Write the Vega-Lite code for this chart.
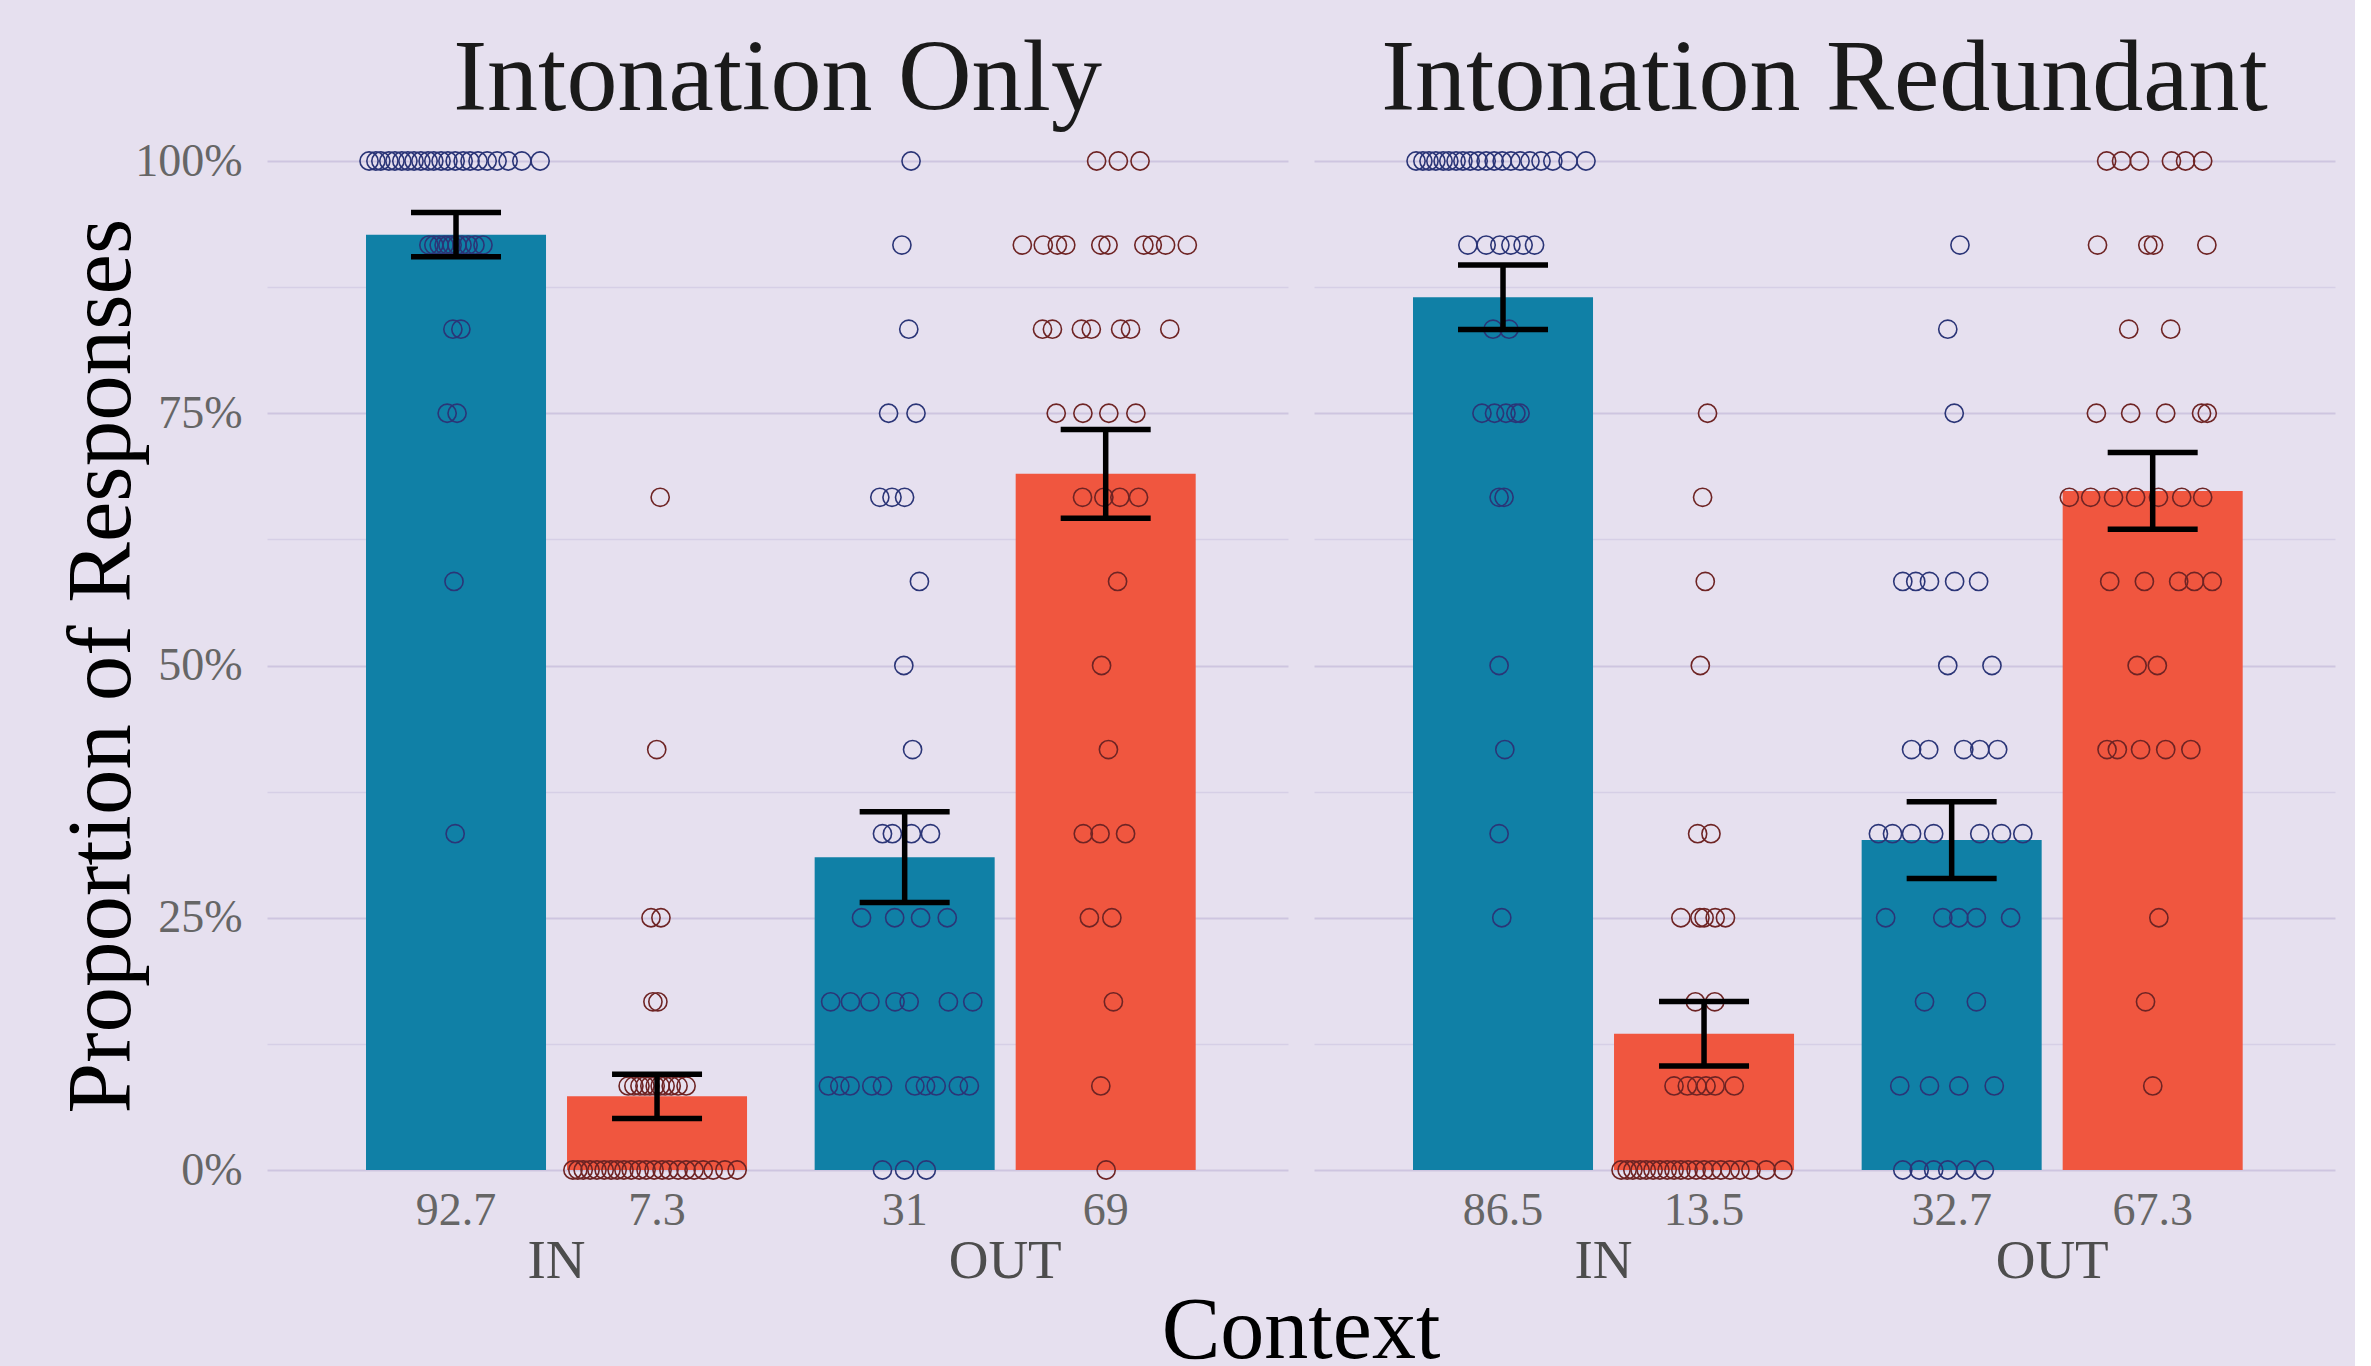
{
"$schema": "https://vega.github.io/schema/vega-lite/v6.json",
"background": "#E6E0EF",
"padding": {"left": 56, "top": 28, "right": 20, "bottom": 0},
"data": {"values": [
{"k":"bar","c":"Intonation Only","x":"IN","r":"A","v":92.7,"lo":90.5,"hi":94.9},
{"k":"bar","c":"Intonation Only","x":"IN","r":"B","v":7.3,"lo":5.1,"hi":9.5},
{"k":"bar","c":"Intonation Only","x":"OUT","r":"A","v":31,"lo":26.5,"hi":35.5},
{"k":"bar","c":"Intonation Only","x":"OUT","r":"B","v":69,"lo":64.6,"hi":73.4},
{"k":"bar","c":"Intonation Redundant","x":"IN","r":"A","v":86.5,"lo":83.3,"hi":89.7},
{"k":"bar","c":"Intonation Redundant","x":"IN","r":"B","v":13.5,"lo":10.3,"hi":16.7},
{"k":"bar","c":"Intonation Redundant","x":"OUT","r":"A","v":32.7,"lo":28.9,"hi":36.5},
{"k":"bar","c":"Intonation Redundant","x":"OUT","r":"B","v":67.3,"lo":63.5,"hi":71.1},

{"k":"pt","c":"Intonation Only","x":"IN","r":"A","v":100,"j":0.008},
{"k":"pt","c":"Intonation Only","x":"IN","r":"A","v":100,"j":0.026},
{"k":"pt","c":"Intonation Only","x":"IN","r":"A","v":100,"j":0.039},
{"k":"pt","c":"Intonation Only","x":"IN","r":"A","v":100,"j":0.060},
{"k":"pt","c":"Intonation Only","x":"IN","r":"A","v":100,"j":0.076},
{"k":"pt","c":"Intonation Only","x":"IN","r":"A","v":100,"j":0.094},
{"k":"pt","c":"Intonation Only","x":"IN","r":"A","v":100,"j":0.110},
{"k":"pt","c":"Intonation Only","x":"IN","r":"A","v":100,"j":0.126},
{"k":"pt","c":"Intonation Only","x":"IN","r":"A","v":100,"j":0.144},
{"k":"pt","c":"Intonation Only","x":"IN","r":"A","v":100,"j":0.163},
{"k":"pt","c":"Intonation Only","x":"IN","r":"A","v":100,"j":0.178},
{"k":"pt","c":"Intonation Only","x":"IN","r":"A","v":100,"j":0.197},
{"k":"pt","c":"Intonation Only","x":"IN","r":"A","v":100,"j":0.215},
{"k":"pt","c":"Intonation Only","x":"IN","r":"A","v":100,"j":0.234},
{"k":"pt","c":"Intonation Only","x":"IN","r":"A","v":100,"j":0.255},
{"k":"pt","c":"Intonation Only","x":"IN","r":"A","v":100,"j":0.273},
{"k":"pt","c":"Intonation Only","x":"IN","r":"A","v":100,"j":0.294},
{"k":"pt","c":"Intonation Only","x":"IN","r":"A","v":100,"j":0.318},
{"k":"pt","c":"Intonation Only","x":"IN","r":"A","v":100,"j":0.344},
{"k":"pt","c":"Intonation Only","x":"IN","r":"A","v":100,"j":0.373},
{"k":"pt","c":"Intonation Only","x":"IN","r":"A","v":100,"j":0.409},
{"k":"pt","c":"Intonation Only","x":"IN","r":"A","v":100,"j":0.457},
{"k":"pt","c":"Intonation Only","x":"IN","r":"A","v":91.667,"j":0.165},
{"k":"pt","c":"Intonation Only","x":"IN","r":"A","v":91.667,"j":0.178},
{"k":"pt","c":"Intonation Only","x":"IN","r":"A","v":91.667,"j":0.192},
{"k":"pt","c":"Intonation Only","x":"IN","r":"A","v":91.667,"j":0.205},
{"k":"pt","c":"Intonation Only","x":"IN","r":"A","v":91.667,"j":0.215},
{"k":"pt","c":"Intonation Only","x":"IN","r":"A","v":91.667,"j":0.226},
{"k":"pt","c":"Intonation Only","x":"IN","r":"A","v":91.667,"j":0.239},
{"k":"pt","c":"Intonation Only","x":"IN","r":"A","v":91.667,"j":0.252},
{"k":"pt","c":"Intonation Only","x":"IN","r":"A","v":91.667,"j":0.268},
{"k":"pt","c":"Intonation Only","x":"IN","r":"A","v":91.667,"j":0.286},
{"k":"pt","c":"Intonation Only","x":"IN","r":"A","v":91.667,"j":0.307},
{"k":"pt","c":"Intonation Only","x":"IN","r":"A","v":83.333,"j":0.228},
{"k":"pt","c":"Intonation Only","x":"IN","r":"A","v":83.333,"j":0.249},
{"k":"pt","c":"Intonation Only","x":"IN","r":"A","v":75,"j":0.213},
{"k":"pt","c":"Intonation Only","x":"IN","r":"A","v":75,"j":0.239},
{"k":"pt","c":"Intonation Only","x":"IN","r":"A","v":58.333,"j":0.231},
{"k":"pt","c":"Intonation Only","x":"IN","r":"A","v":33.333,"j":0.234},

{"k":"pt","c":"Intonation Only","x":"IN","r":"B","v":0,"j":0.543},
{"k":"pt","c":"Intonation Only","x":"IN","r":"B","v":0,"j":0.556},
{"k":"pt","c":"Intonation Only","x":"IN","r":"B","v":0,"j":0.570},
{"k":"pt","c":"Intonation Only","x":"IN","r":"B","v":0,"j":0.588},
{"k":"pt","c":"Intonation Only","x":"IN","r":"B","v":0,"j":0.606},
{"k":"pt","c":"Intonation Only","x":"IN","r":"B","v":0,"j":0.625},
{"k":"pt","c":"Intonation Only","x":"IN","r":"B","v":0,"j":0.643},
{"k":"pt","c":"Intonation Only","x":"IN","r":"B","v":0,"j":0.659},
{"k":"pt","c":"Intonation Only","x":"IN","r":"B","v":0,"j":0.677},
{"k":"pt","c":"Intonation Only","x":"IN","r":"B","v":0,"j":0.696},
{"k":"pt","c":"Intonation Only","x":"IN","r":"B","v":0,"j":0.717},
{"k":"pt","c":"Intonation Only","x":"IN","r":"B","v":0,"j":0.735},
{"k":"pt","c":"Intonation Only","x":"IN","r":"B","v":0,"j":0.756},
{"k":"pt","c":"Intonation Only","x":"IN","r":"B","v":0,"j":0.777},
{"k":"pt","c":"Intonation Only","x":"IN","r":"B","v":0,"j":0.795},
{"k":"pt","c":"Intonation Only","x":"IN","r":"B","v":0,"j":0.819},
{"k":"pt","c":"Intonation Only","x":"IN","r":"B","v":0,"j":0.840},
{"k":"pt","c":"Intonation Only","x":"IN","r":"B","v":0,"j":0.861},
{"k":"pt","c":"Intonation Only","x":"IN","r":"B","v":0,"j":0.885},
{"k":"pt","c":"Intonation Only","x":"IN","r":"B","v":0,"j":0.911},
{"k":"pt","c":"Intonation Only","x":"IN","r":"B","v":0,"j":0.942},
{"k":"pt","c":"Intonation Only","x":"IN","r":"B","v":0,"j":0.974},
{"k":"pt","c":"Intonation Only","x":"IN","r":"B","v":8.333,"j":0.688},
{"k":"pt","c":"Intonation Only","x":"IN","r":"B","v":8.333,"j":0.703},
{"k":"pt","c":"Intonation Only","x":"IN","r":"B","v":8.333,"j":0.719},
{"k":"pt","c":"Intonation Only","x":"IN","r":"B","v":8.333,"j":0.732},
{"k":"pt","c":"Intonation Only","x":"IN","r":"B","v":8.333,"j":0.745},
{"k":"pt","c":"Intonation Only","x":"IN","r":"B","v":8.333,"j":0.759},
{"k":"pt","c":"Intonation Only","x":"IN","r":"B","v":8.333,"j":0.772},
{"k":"pt","c":"Intonation Only","x":"IN","r":"B","v":8.333,"j":0.785},
{"k":"pt","c":"Intonation Only","x":"IN","r":"B","v":8.333,"j":0.801},
{"k":"pt","c":"Intonation Only","x":"IN","r":"B","v":8.333,"j":0.819},
{"k":"pt","c":"Intonation Only","x":"IN","r":"B","v":8.333,"j":0.840},
{"k":"pt","c":"Intonation Only","x":"IN","r":"B","v":16.667,"j":0.753},
{"k":"pt","c":"Intonation Only","x":"IN","r":"B","v":16.667,"j":0.766},
{"k":"pt","c":"Intonation Only","x":"IN","r":"B","v":25,"j":0.748},
{"k":"pt","c":"Intonation Only","x":"IN","r":"B","v":25,"j":0.774},
{"k":"pt","c":"Intonation Only","x":"IN","r":"B","v":41.667,"j":0.763},
{"k":"pt","c":"Intonation Only","x":"IN","r":"B","v":66.667,"j":0.772},

{"k":"pt","c":"Intonation Only","x":"OUT","r":"A","v":0,"j":0.178},
{"k":"pt","c":"Intonation Only","x":"OUT","r":"A","v":0,"j":0.236},
{"k":"pt","c":"Intonation Only","x":"OUT","r":"A","v":0,"j":0.293},
{"k":"pt","c":"Intonation Only","x":"OUT","r":"A","v":8.333,"j":0.036},
{"k":"pt","c":"Intonation Only","x":"OUT","r":"A","v":8.333,"j":0.066},
{"k":"pt","c":"Intonation Only","x":"OUT","r":"A","v":8.333,"j":0.093},
{"k":"pt","c":"Intonation Only","x":"OUT","r":"A","v":8.333,"j":0.150},
{"k":"pt","c":"Intonation Only","x":"OUT","r":"A","v":8.333,"j":0.178},
{"k":"pt","c":"Intonation Only","x":"OUT","r":"A","v":8.333,"j":0.263},
{"k":"pt","c":"Intonation Only","x":"OUT","r":"A","v":8.333,"j":0.291},
{"k":"pt","c":"Intonation Only","x":"OUT","r":"A","v":8.333,"j":0.319},
{"k":"pt","c":"Intonation Only","x":"OUT","r":"A","v":8.333,"j":0.377},
{"k":"pt","c":"Intonation Only","x":"OUT","r":"A","v":8.333,"j":0.406},
{"k":"pt","c":"Intonation Only","x":"OUT","r":"A","v":16.667,"j":0.042},
{"k":"pt","c":"Intonation Only","x":"OUT","r":"A","v":16.667,"j":0.094},
{"k":"pt","c":"Intonation Only","x":"OUT","r":"A","v":16.667,"j":0.145},
{"k":"pt","c":"Intonation Only","x":"OUT","r":"A","v":16.667,"j":0.211},
{"k":"pt","c":"Intonation Only","x":"OUT","r":"A","v":16.667,"j":0.248},
{"k":"pt","c":"Intonation Only","x":"OUT","r":"A","v":16.667,"j":0.351},
{"k":"pt","c":"Intonation Only","x":"OUT","r":"A","v":16.667,"j":0.415},
{"k":"pt","c":"Intonation Only","x":"OUT","r":"A","v":25,"j":0.123},
{"k":"pt","c":"Intonation Only","x":"OUT","r":"A","v":25,"j":0.210},
{"k":"pt","c":"Intonation Only","x":"OUT","r":"A","v":25,"j":0.278},
{"k":"pt","c":"Intonation Only","x":"OUT","r":"A","v":25,"j":0.348},
{"k":"pt","c":"Intonation Only","x":"OUT","r":"A","v":33.333,"j":0.178},
{"k":"pt","c":"Intonation Only","x":"OUT","r":"A","v":33.333,"j":0.204},
{"k":"pt","c":"Intonation Only","x":"OUT","r":"A","v":33.333,"j":0.254},
{"k":"pt","c":"Intonation Only","x":"OUT","r":"A","v":33.333,"j":0.304},
{"k":"pt","c":"Intonation Only","x":"OUT","r":"A","v":41.667,"j":0.257},
{"k":"pt","c":"Intonation Only","x":"OUT","r":"A","v":50,"j":0.234},
{"k":"pt","c":"Intonation Only","x":"OUT","r":"A","v":58.333,"j":0.275},
{"k":"pt","c":"Intonation Only","x":"OUT","r":"A","v":66.667,"j":0.171},
{"k":"pt","c":"Intonation Only","x":"OUT","r":"A","v":66.667,"j":0.203},
{"k":"pt","c":"Intonation Only","x":"OUT","r":"A","v":66.667,"j":0.236},
{"k":"pt","c":"Intonation Only","x":"OUT","r":"A","v":75,"j":0.194},
{"k":"pt","c":"Intonation Only","x":"OUT","r":"A","v":75,"j":0.266},
{"k":"pt","c":"Intonation Only","x":"OUT","r":"A","v":83.333,"j":0.247},
{"k":"pt","c":"Intonation Only","x":"OUT","r":"A","v":91.667,"j":0.229},
{"k":"pt","c":"Intonation Only","x":"OUT","r":"A","v":100,"j":0.253},

{"k":"pt","c":"Intonation Only","x":"OUT","r":"B","v":100,"j":0.740},
{"k":"pt","c":"Intonation Only","x":"OUT","r":"B","v":100,"j":0.797},
{"k":"pt","c":"Intonation Only","x":"OUT","r":"B","v":100,"j":0.854},
{"k":"pt","c":"Intonation Only","x":"OUT","r":"B","v":91.667,"j":0.545},
{"k":"pt","c":"Intonation Only","x":"OUT","r":"B","v":91.667,"j":0.600},
{"k":"pt","c":"Intonation Only","x":"OUT","r":"B","v":91.667,"j":0.637},
{"k":"pt","c":"Intonation Only","x":"OUT","r":"B","v":91.667,"j":0.659},
{"k":"pt","c":"Intonation Only","x":"OUT","r":"B","v":91.667,"j":0.751},
{"k":"pt","c":"Intonation Only","x":"OUT","r":"B","v":91.667,"j":0.770},
{"k":"pt","c":"Intonation Only","x":"OUT","r":"B","v":91.667,"j":0.864},
{"k":"pt","c":"Intonation Only","x":"OUT","r":"B","v":91.667,"j":0.886},
{"k":"pt","c":"Intonation Only","x":"OUT","r":"B","v":91.667,"j":0.921},
{"k":"pt","c":"Intonation Only","x":"OUT","r":"B","v":91.667,"j":0.978},
{"k":"pt","c":"Intonation Only","x":"OUT","r":"B","v":83.333,"j":0.598},
{"k":"pt","c":"Intonation Only","x":"OUT","r":"B","v":83.333,"j":0.624},
{"k":"pt","c":"Intonation Only","x":"OUT","r":"B","v":83.333,"j":0.700},
{"k":"pt","c":"Intonation Only","x":"OUT","r":"B","v":83.333,"j":0.726},
{"k":"pt","c":"Intonation Only","x":"OUT","r":"B","v":83.333,"j":0.803},
{"k":"pt","c":"Intonation Only","x":"OUT","r":"B","v":83.333,"j":0.829},
{"k":"pt","c":"Intonation Only","x":"OUT","r":"B","v":83.333,"j":0.932},
{"k":"pt","c":"Intonation Only","x":"OUT","r":"B","v":75,"j":0.634},
{"k":"pt","c":"Intonation Only","x":"OUT","r":"B","v":75,"j":0.704},
{"k":"pt","c":"Intonation Only","x":"OUT","r":"B","v":75,"j":0.772},
{"k":"pt","c":"Intonation Only","x":"OUT","r":"B","v":75,"j":0.843},
{"k":"pt","c":"Intonation Only","x":"OUT","r":"B","v":66.667,"j":0.703},
{"k":"pt","c":"Intonation Only","x":"OUT","r":"B","v":66.667,"j":0.759},
{"k":"pt","c":"Intonation Only","x":"OUT","r":"B","v":66.667,"j":0.801},
{"k":"pt","c":"Intonation Only","x":"OUT","r":"B","v":66.667,"j":0.850},
{"k":"pt","c":"Intonation Only","x":"OUT","r":"B","v":58.333,"j":0.795},
{"k":"pt","c":"Intonation Only","x":"OUT","r":"B","v":50,"j":0.753},
{"k":"pt","c":"Intonation Only","x":"OUT","r":"B","v":41.667,"j":0.771},
{"k":"pt","c":"Intonation Only","x":"OUT","r":"B","v":33.333,"j":0.705},
{"k":"pt","c":"Intonation Only","x":"OUT","r":"B","v":33.333,"j":0.749},
{"k":"pt","c":"Intonation Only","x":"OUT","r":"B","v":33.333,"j":0.816},
{"k":"pt","c":"Intonation Only","x":"OUT","r":"B","v":25,"j":0.721},
{"k":"pt","c":"Intonation Only","x":"OUT","r":"B","v":25,"j":0.780},
{"k":"pt","c":"Intonation Only","x":"OUT","r":"B","v":16.667,"j":0.784},
{"k":"pt","c":"Intonation Only","x":"OUT","r":"B","v":8.333,"j":0.751},
{"k":"pt","c":"Intonation Only","x":"OUT","r":"B","v":0,"j":0.765},

{"k":"pt","c":"Intonation Redundant","x":"IN","r":"A","v":100,"j":0.008},
{"k":"pt","c":"Intonation Redundant","x":"IN","r":"A","v":100,"j":0.026},
{"k":"pt","c":"Intonation Redundant","x":"IN","r":"A","v":100,"j":0.042},
{"k":"pt","c":"Intonation Redundant","x":"IN","r":"A","v":100,"j":0.060},
{"k":"pt","c":"Intonation Redundant","x":"IN","r":"A","v":100,"j":0.079},
{"k":"pt","c":"Intonation Redundant","x":"IN","r":"A","v":100,"j":0.094},
{"k":"pt","c":"Intonation Redundant","x":"IN","r":"A","v":100,"j":0.113},
{"k":"pt","c":"Intonation Redundant","x":"IN","r":"A","v":100,"j":0.131},
{"k":"pt","c":"Intonation Redundant","x":"IN","r":"A","v":100,"j":0.150},
{"k":"pt","c":"Intonation Redundant","x":"IN","r":"A","v":100,"j":0.171},
{"k":"pt","c":"Intonation Redundant","x":"IN","r":"A","v":100,"j":0.192},
{"k":"pt","c":"Intonation Redundant","x":"IN","r":"A","v":100,"j":0.213},
{"k":"pt","c":"Intonation Redundant","x":"IN","r":"A","v":100,"j":0.234},
{"k":"pt","c":"Intonation Redundant","x":"IN","r":"A","v":100,"j":0.257},
{"k":"pt","c":"Intonation Redundant","x":"IN","r":"A","v":100,"j":0.281},
{"k":"pt","c":"Intonation Redundant","x":"IN","r":"A","v":100,"j":0.307},
{"k":"pt","c":"Intonation Redundant","x":"IN","r":"A","v":100,"j":0.336},
{"k":"pt","c":"Intonation Redundant","x":"IN","r":"A","v":100,"j":0.367},
{"k":"pt","c":"Intonation Redundant","x":"IN","r":"A","v":100,"j":0.407},
{"k":"pt","c":"Intonation Redundant","x":"IN","r":"A","v":100,"j":0.454},
{"k":"pt","c":"Intonation Redundant","x":"IN","r":"A","v":91.667,"j":0.144},
{"k":"pt","c":"Intonation Redundant","x":"IN","r":"A","v":91.667,"j":0.192},
{"k":"pt","c":"Intonation Redundant","x":"IN","r":"A","v":91.667,"j":0.228},
{"k":"pt","c":"Intonation Redundant","x":"IN","r":"A","v":91.667,"j":0.257},
{"k":"pt","c":"Intonation Redundant","x":"IN","r":"A","v":91.667,"j":0.289},
{"k":"pt","c":"Intonation Redundant","x":"IN","r":"A","v":91.667,"j":0.319},
{"k":"pt","c":"Intonation Redundant","x":"IN","r":"A","v":83.333,"j":0.210},
{"k":"pt","c":"Intonation Redundant","x":"IN","r":"A","v":83.333,"j":0.252},
{"k":"pt","c":"Intonation Redundant","x":"IN","r":"A","v":75,"j":0.181},
{"k":"pt","c":"Intonation Redundant","x":"IN","r":"A","v":75,"j":0.214},
{"k":"pt","c":"Intonation Redundant","x":"IN","r":"A","v":75,"j":0.244},
{"k":"pt","c":"Intonation Redundant","x":"IN","r":"A","v":75,"j":0.270},
{"k":"pt","c":"Intonation Redundant","x":"IN","r":"A","v":75,"j":0.281},
{"k":"pt","c":"Intonation Redundant","x":"IN","r":"A","v":66.667,"j":0.226},
{"k":"pt","c":"Intonation Redundant","x":"IN","r":"A","v":66.667,"j":0.239},
{"k":"pt","c":"Intonation Redundant","x":"IN","r":"A","v":50,"j":0.226},
{"k":"pt","c":"Intonation Redundant","x":"IN","r":"A","v":41.667,"j":0.241},
{"k":"pt","c":"Intonation Redundant","x":"IN","r":"A","v":33.333,"j":0.226},
{"k":"pt","c":"Intonation Redundant","x":"IN","r":"A","v":25,"j":0.233},

{"k":"pt","c":"Intonation Redundant","x":"IN","r":"B","v":0,"j":0.546},
{"k":"pt","c":"Intonation Redundant","x":"IN","r":"B","v":0,"j":0.562},
{"k":"pt","c":"Intonation Redundant","x":"IN","r":"B","v":0,"j":0.577},
{"k":"pt","c":"Intonation Redundant","x":"IN","r":"B","v":0,"j":0.596},
{"k":"pt","c":"Intonation Redundant","x":"IN","r":"B","v":0,"j":0.612},
{"k":"pt","c":"Intonation Redundant","x":"IN","r":"B","v":0,"j":0.630},
{"k":"pt","c":"Intonation Redundant","x":"IN","r":"B","v":0,"j":0.648},
{"k":"pt","c":"Intonation Redundant","x":"IN","r":"B","v":0,"j":0.667},
{"k":"pt","c":"Intonation Redundant","x":"IN","r":"B","v":0,"j":0.685},
{"k":"pt","c":"Intonation Redundant","x":"IN","r":"B","v":0,"j":0.703},
{"k":"pt","c":"Intonation Redundant","x":"IN","r":"B","v":0,"j":0.722},
{"k":"pt","c":"Intonation Redundant","x":"IN","r":"B","v":0,"j":0.743},
{"k":"pt","c":"Intonation Redundant","x":"IN","r":"B","v":0,"j":0.764},
{"k":"pt","c":"Intonation Redundant","x":"IN","r":"B","v":0,"j":0.785},
{"k":"pt","c":"Intonation Redundant","x":"IN","r":"B","v":0,"j":0.808},
{"k":"pt","c":"Intonation Redundant","x":"IN","r":"B","v":0,"j":0.832},
{"k":"pt","c":"Intonation Redundant","x":"IN","r":"B","v":0,"j":0.858},
{"k":"pt","c":"Intonation Redundant","x":"IN","r":"B","v":0,"j":0.887},
{"k":"pt","c":"Intonation Redundant","x":"IN","r":"B","v":0,"j":0.927},
{"k":"pt","c":"Intonation Redundant","x":"IN","r":"B","v":0,"j":0.971},
{"k":"pt","c":"Intonation Redundant","x":"IN","r":"B","v":8.333,"j":0.685},
{"k":"pt","c":"Intonation Redundant","x":"IN","r":"B","v":8.333,"j":0.720},
{"k":"pt","c":"Intonation Redundant","x":"IN","r":"B","v":8.333,"j":0.745},
{"k":"pt","c":"Intonation Redundant","x":"IN","r":"B","v":8.333,"j":0.769},
{"k":"pt","c":"Intonation Redundant","x":"IN","r":"B","v":8.333,"j":0.793},
{"k":"pt","c":"Intonation Redundant","x":"IN","r":"B","v":8.333,"j":0.843},
{"k":"pt","c":"Intonation Redundant","x":"IN","r":"B","v":16.667,"j":0.741},
{"k":"pt","c":"Intonation Redundant","x":"IN","r":"B","v":16.667,"j":0.792},
{"k":"pt","c":"Intonation Redundant","x":"IN","r":"B","v":25,"j":0.703},
{"k":"pt","c":"Intonation Redundant","x":"IN","r":"B","v":25,"j":0.753},
{"k":"pt","c":"Intonation Redundant","x":"IN","r":"B","v":25,"j":0.764},
{"k":"pt","c":"Intonation Redundant","x":"IN","r":"B","v":25,"j":0.793},
{"k":"pt","c":"Intonation Redundant","x":"IN","r":"B","v":25,"j":0.820},
{"k":"pt","c":"Intonation Redundant","x":"IN","r":"B","v":33.333,"j":0.747},
{"k":"pt","c":"Intonation Redundant","x":"IN","r":"B","v":33.333,"j":0.782},
{"k":"pt","c":"Intonation Redundant","x":"IN","r":"B","v":50,"j":0.754},
{"k":"pt","c":"Intonation Redundant","x":"IN","r":"B","v":58.333,"j":0.767},
{"k":"pt","c":"Intonation Redundant","x":"IN","r":"B","v":66.667,"j":0.760},
{"k":"pt","c":"Intonation Redundant","x":"IN","r":"B","v":75,"j":0.773},

{"k":"pt","c":"Intonation Redundant","x":"OUT","r":"A","v":91.667,"j":0.258},
{"k":"pt","c":"Intonation Redundant","x":"OUT","r":"A","v":83.333,"j":0.226},
{"k":"pt","c":"Intonation Redundant","x":"OUT","r":"A","v":75,"j":0.243},
{"k":"pt","c":"Intonation Redundant","x":"OUT","r":"A","v":58.333,"j":0.108},
{"k":"pt","c":"Intonation Redundant","x":"OUT","r":"A","v":58.333,"j":0.142},
{"k":"pt","c":"Intonation Redundant","x":"OUT","r":"A","v":58.333,"j":0.178},
{"k":"pt","c":"Intonation Redundant","x":"OUT","r":"A","v":58.333,"j":0.244},
{"k":"pt","c":"Intonation Redundant","x":"OUT","r":"A","v":58.333,"j":0.307},
{"k":"pt","c":"Intonation Redundant","x":"OUT","r":"A","v":50,"j":0.226},
{"k":"pt","c":"Intonation Redundant","x":"OUT","r":"A","v":50,"j":0.342},
{"k":"pt","c":"Intonation Redundant","x":"OUT","r":"A","v":41.667,"j":0.131},
{"k":"pt","c":"Intonation Redundant","x":"OUT","r":"A","v":41.667,"j":0.176},
{"k":"pt","c":"Intonation Redundant","x":"OUT","r":"A","v":41.667,"j":0.268},
{"k":"pt","c":"Intonation Redundant","x":"OUT","r":"A","v":41.667,"j":0.310},
{"k":"pt","c":"Intonation Redundant","x":"OUT","r":"A","v":41.667,"j":0.357},
{"k":"pt","c":"Intonation Redundant","x":"OUT","r":"A","v":33.333,"j":0.044},
{"k":"pt","c":"Intonation Redundant","x":"OUT","r":"A","v":33.333,"j":0.081},
{"k":"pt","c":"Intonation Redundant","x":"OUT","r":"A","v":33.333,"j":0.131},
{"k":"pt","c":"Intonation Redundant","x":"OUT","r":"A","v":33.333,"j":0.189},
{"k":"pt","c":"Intonation Redundant","x":"OUT","r":"A","v":33.333,"j":0.310},
{"k":"pt","c":"Intonation Redundant","x":"OUT","r":"A","v":33.333,"j":0.367},
{"k":"pt","c":"Intonation Redundant","x":"OUT","r":"A","v":33.333,"j":0.423},
{"k":"pt","c":"Intonation Redundant","x":"OUT","r":"A","v":25,"j":0.063},
{"k":"pt","c":"Intonation Redundant","x":"OUT","r":"A","v":25,"j":0.213},
{"k":"pt","c":"Intonation Redundant","x":"OUT","r":"A","v":25,"j":0.255},
{"k":"pt","c":"Intonation Redundant","x":"OUT","r":"A","v":25,"j":0.301},
{"k":"pt","c":"Intonation Redundant","x":"OUT","r":"A","v":25,"j":0.391},
{"k":"pt","c":"Intonation Redundant","x":"OUT","r":"A","v":16.667,"j":0.165},
{"k":"pt","c":"Intonation Redundant","x":"OUT","r":"A","v":16.667,"j":0.301},
{"k":"pt","c":"Intonation Redundant","x":"OUT","r":"A","v":8.333,"j":0.100},
{"k":"pt","c":"Intonation Redundant","x":"OUT","r":"A","v":8.333,"j":0.178},
{"k":"pt","c":"Intonation Redundant","x":"OUT","r":"A","v":8.333,"j":0.255},
{"k":"pt","c":"Intonation Redundant","x":"OUT","r":"A","v":8.333,"j":0.348},
{"k":"pt","c":"Intonation Redundant","x":"OUT","r":"A","v":0,"j":0.108},
{"k":"pt","c":"Intonation Redundant","x":"OUT","r":"A","v":0,"j":0.151},
{"k":"pt","c":"Intonation Redundant","x":"OUT","r":"A","v":0,"j":0.189},
{"k":"pt","c":"Intonation Redundant","x":"OUT","r":"A","v":0,"j":0.226},
{"k":"pt","c":"Intonation Redundant","x":"OUT","r":"A","v":0,"j":0.273},
{"k":"pt","c":"Intonation Redundant","x":"OUT","r":"A","v":0,"j":0.322},

{"k":"pt","c":"Intonation Redundant","x":"OUT","r":"B","v":100,"j":0.643},
{"k":"pt","c":"Intonation Redundant","x":"OUT","r":"B","v":100,"j":0.682},
{"k":"pt","c":"Intonation Redundant","x":"OUT","r":"B","v":100,"j":0.729},
{"k":"pt","c":"Intonation Redundant","x":"OUT","r":"B","v":100,"j":0.813},
{"k":"pt","c":"Intonation Redundant","x":"OUT","r":"B","v":100,"j":0.850},
{"k":"pt","c":"Intonation Redundant","x":"OUT","r":"B","v":100,"j":0.895},
{"k":"pt","c":"Intonation Redundant","x":"OUT","r":"B","v":91.667,"j":0.619},
{"k":"pt","c":"Intonation Redundant","x":"OUT","r":"B","v":91.667,"j":0.751},
{"k":"pt","c":"Intonation Redundant","x":"OUT","r":"B","v":91.667,"j":0.766},
{"k":"pt","c":"Intonation Redundant","x":"OUT","r":"B","v":91.667,"j":0.906},
{"k":"pt","c":"Intonation Redundant","x":"OUT","r":"B","v":83.333,"j":0.701},
{"k":"pt","c":"Intonation Redundant","x":"OUT","r":"B","v":83.333,"j":0.811},
{"k":"pt","c":"Intonation Redundant","x":"OUT","r":"B","v":75,"j":0.616},
{"k":"pt","c":"Intonation Redundant","x":"OUT","r":"B","v":75,"j":0.706},
{"k":"pt","c":"Intonation Redundant","x":"OUT","r":"B","v":75,"j":0.798},
{"k":"pt","c":"Intonation Redundant","x":"OUT","r":"B","v":75,"j":0.892},
{"k":"pt","c":"Intonation Redundant","x":"OUT","r":"B","v":75,"j":0.907},
{"k":"pt","c":"Intonation Redundant","x":"OUT","r":"B","v":66.667,"j":0.545},
{"k":"pt","c":"Intonation Redundant","x":"OUT","r":"B","v":66.667,"j":0.601},
{"k":"pt","c":"Intonation Redundant","x":"OUT","r":"B","v":66.667,"j":0.661},
{"k":"pt","c":"Intonation Redundant","x":"OUT","r":"B","v":66.667,"j":0.719},
{"k":"pt","c":"Intonation Redundant","x":"OUT","r":"B","v":66.667,"j":0.779},
{"k":"pt","c":"Intonation Redundant","x":"OUT","r":"B","v":66.667,"j":0.840},
{"k":"pt","c":"Intonation Redundant","x":"OUT","r":"B","v":66.667,"j":0.895},
{"k":"pt","c":"Intonation Redundant","x":"OUT","r":"B","v":58.333,"j":0.651},
{"k":"pt","c":"Intonation Redundant","x":"OUT","r":"B","v":58.333,"j":0.742},
{"k":"pt","c":"Intonation Redundant","x":"OUT","r":"B","v":58.333,"j":0.832},
{"k":"pt","c":"Intonation Redundant","x":"OUT","r":"B","v":58.333,"j":0.873},
{"k":"pt","c":"Intonation Redundant","x":"OUT","r":"B","v":58.333,"j":0.920},
{"k":"pt","c":"Intonation Redundant","x":"OUT","r":"B","v":50,"j":0.723},
{"k":"pt","c":"Intonation Redundant","x":"OUT","r":"B","v":50,"j":0.776},
{"k":"pt","c":"Intonation Redundant","x":"OUT","r":"B","v":41.667,"j":0.644},
{"k":"pt","c":"Intonation Redundant","x":"OUT","r":"B","v":41.667,"j":0.671},
{"k":"pt","c":"Intonation Redundant","x":"OUT","r":"B","v":41.667,"j":0.732},
{"k":"pt","c":"Intonation Redundant","x":"OUT","r":"B","v":41.667,"j":0.798},
{"k":"pt","c":"Intonation Redundant","x":"OUT","r":"B","v":41.667,"j":0.864},
{"k":"pt","c":"Intonation Redundant","x":"OUT","r":"B","v":25,"j":0.780},
{"k":"pt","c":"Intonation Redundant","x":"OUT","r":"B","v":16.667,"j":0.745},
{"k":"pt","c":"Intonation Redundant","x":"OUT","r":"B","v":8.333,"j":0.764}
]},
"facet": {"column": {"field": "c", "type": "nominal", "title": "Context",
  "header": {"labelFont": "Liberation Serif", "labelFontSize": 102, "labelColor": "#1A1A1A", "labelPadding": 17, "labelOrient": "top",
             "titleOrient": "bottom", "titleFont": "Liberation Serif", "titleFontSize": 88, "titleFontWeight": "normal", "titleColor": "#000000", "titlePadding": -10}}},
"spacing": 26,
"spec": {
  "width": 1021,
  "height": 1009,
  "layer": [
    {"transform": [{"filter": "datum.k === 'bar'"}],
     "mark": {"type": "bar"},
     "encoding": {
       "x": {"field": "x", "type": "nominal", "title": null, "scale": {"paddingInner": 0.1507, "paddingOuter": 0.2132, "align": 0.5175}},
       "xOffset": {"field": "r", "type": "nominal", "scale": {"type": "band", "domain": ["A","B"], "paddingInner": 0.1045, "paddingOuter": 0}},
       "y": {"field": "v", "type": "quantitative", "title": "Proportion of Responses", "scale": {"domain": [0, 100], "nice": false},
             "axis": {"values": [0, 12.5, 25, 37.5, 50, 62.5, 75, 87.5, 100],
                      "labelExpr": "datum.value % 25 === 0 ? datum.value + '%' : ''",
                      "gridColor": {"condition": {"test": "datum.value % 25 === 0", "value": "#CEC5E0"}, "value": "#D6CFE6"},
                      "gridWidth": {"condition": {"test": "datum.value % 25 === 0", "value": 2.2}, "value": 1.3}}},
       "color": {"field": "r", "type": "nominal", "scale": {"domain": ["A","B"], "range": ["#1080A6", "#F0563F"]}, "legend": null}
     }},
    {"transform": [{"filter": "datum.k === 'pt'"}],
     "mark": {"type": "point", "filled": false, "size": 330, "strokeWidth": 1.6, "opacity": 1},
     "encoding": {
       "x": {"field": "x", "type": "nominal", "title": null},
       "xOffset": {"field": "j", "type": "quantitative", "scale": {"domain": [0, 1], "zero": false, "nice": false}},
       "y": {"field": "v", "type": "quantitative", "title": "Proportion of Responses"},
       "stroke": {"field": "r", "type": "nominal", "scale": {"domain": ["A","B"], "range": ["#2B3577", "#6E2424"]}, "legend": null}
     }},
    {"transform": [{"filter": "datum.k === 'bar'"}],
     "mark": {"type": "rule", "strokeWidth": 5.5, "color": "#000000"},
     "encoding": {
       "x": {"field": "x", "type": "nominal", "title": null},
       "xOffset": {"field": "r", "type": "nominal", "scale": {"type": "band", "domain": ["A","B"], "paddingInner": 0.1045, "paddingOuter": 0}},
       "y": {"field": "lo", "type": "quantitative", "title": "Proportion of Responses"},
       "y2": {"field": "hi"}
     }},
    {"transform": [{"filter": "datum.k === 'bar'"}],
     "mark": {"type": "tick", "orient": "horizontal", "size": 90, "thickness": 5.5, "color": "#000000", "opacity": 1},
     "encoding": {
       "x": {"field": "x", "type": "nominal", "title": null},
       "xOffset": {"field": "r", "type": "nominal", "scale": {"type": "band", "domain": ["A","B"], "paddingInner": 0.1045, "paddingOuter": 0}},
       "y": {"field": "lo", "type": "quantitative", "title": "Proportion of Responses"}
     }},
    {"transform": [{"filter": "datum.k === 'bar'"}],
     "mark": {"type": "tick", "orient": "horizontal", "size": 90, "thickness": 5.5, "color": "#000000", "opacity": 1},
     "encoding": {
       "x": {"field": "x", "type": "nominal", "title": null},
       "xOffset": {"field": "r", "type": "nominal", "scale": {"type": "band", "domain": ["A","B"], "paddingInner": 0.1045, "paddingOuter": 0}},
       "y": {"field": "hi", "type": "quantitative", "title": "Proportion of Responses"}
     }},
    {"transform": [{"filter": "datum.k === 'bar'"}],
     "mark": {"type": "text", "baseline": "alphabetic", "align": "center", "dy": 55, "fontSize": 46, "font": "Liberation Serif", "color": "#666666"},
     "encoding": {
       "x": {"field": "x", "type": "nominal", "title": null},
       "xOffset": {"field": "r", "type": "nominal", "scale": {"type": "band", "domain": ["A","B"], "paddingInner": 0.1045, "paddingOuter": 0}},
       "y": {"datum": 0},
       "text": {"field": "v", "type": "nominal"}
     }}
  ],
  "resolve": {"scale": {"xOffset": "independent"}}
},
"config": {
  "view": {"stroke": null},
  "font": "Liberation Serif",
  "axis": {"domain": false, "ticks": false, "labelFont": "Liberation Serif", "titleFont": "Liberation Serif", "titleFontWeight": "normal", "titleColor": "#000000"},
  "axisX": {"grid": false, "labelFontSize": 55, "labelColor": "#4D4D4D", "labelPadding": 0, "labelAngle": 0},
  "axisY": {"labelFontSize": 46, "labelColor": "#666666", "labelPadding": 25, "titleFontSize": 91, "titlePadding": -14}
}
}
